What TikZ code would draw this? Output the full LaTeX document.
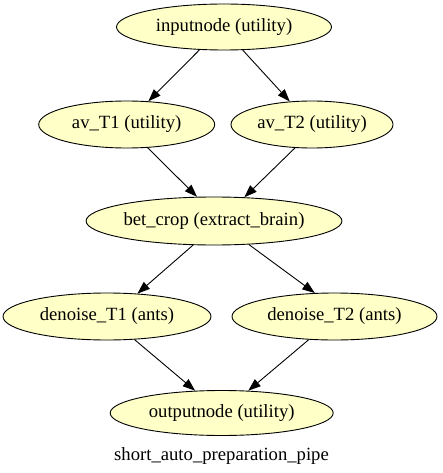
\documentclass[tikz,border=0pt]{standalone}
\usepackage{fontspec}
\setmainfont{Liberation Serif}
\usetikzlibrary{arrows.meta,shapes.geometric}
\definecolor{nodefill}{HTML}{FFFFC8}
\begin{document}
\begin{tikzpicture}[x=1pt,y=-1pt,
  gnode/.style={ellipse,draw=black,line width=0.9pt,fill=nodefill,inner sep=0pt,
    font=\fontsize{18.67}{22}\selectfont},
  edge/.style={draw=black,line width=0.9pt,-{Triangle[length=12.5pt,width=9pt]}}]
\useasboundingbox (0,0) rectangle (443,473);
\node[gnode,minimum width=215pt,minimum height=46pt] (in) at (224,27) {inputnode (utility)};
\node[gnode,minimum width=176pt,minimum height=47pt] (a1) at (126.7,124.5) {av\_T1 (utility)};
\node[gnode,minimum width=162pt,minimum height=47pt] (a2) at (312,124.5) {av\_T2 (utility)};
\node[gnode,minimum width=254pt,minimum height=48pt] (bet) at (214,221) {bet\_crop (extract\_brain)};
\node[gnode,minimum width=208pt,minimum height=47pt] (d1) at (107,316.5) {denoise\_T1 (ants)};
\node[gnode,minimum width=205pt,minimum height=47pt] (d2) at (334.5,316.5) {denoise\_T2 (ants)};
\node[gnode,minimum width=223pt,minimum height=45pt] (out) at (221.7,413) {outputnode (utility)};
\node[anchor=base,inner sep=0pt,font=\fontsize{18.67}{22}\selectfont] (lab) at (221.5,460) {short\_auto\_preparation\_pipe};
\draw[edge] (in.-137) -- (a1.47);
\draw[edge] (in.-51.3) -- (a2.134.4);
\draw[edge] (a1.-48.8) -- (bet.125.4);
\draw[edge] (a2.-126) -- (bet.38.7);
\draw[edge] (bet.-131.6) -- (d1.37.1);
\draw[edge] (bet.-34.2) -- (d2.130.9);
\draw[edge] (d1.-40.8) -- (out.140.1);
\draw[edge] (d2.-138.3) -- (out.40);
\end{tikzpicture}
\end{document}
